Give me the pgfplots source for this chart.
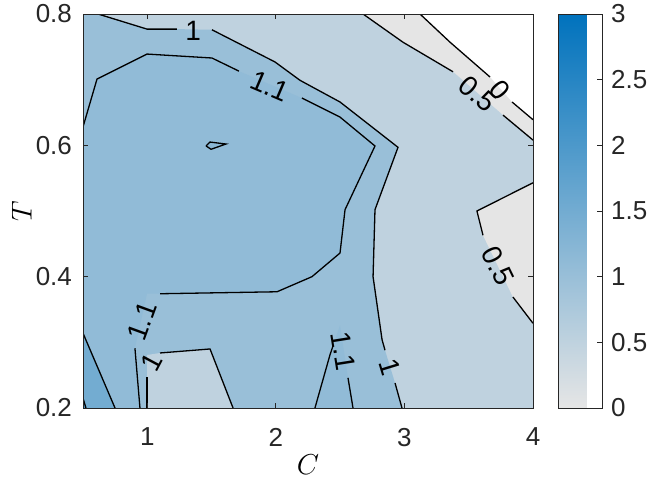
\documentclass[border=0pt]{standalone}
\usepackage{fontspec}
\setmainfont{Liberation Sans}
\usepackage{pgfplots}
\pgfplotsset{compat=1.18}

% colours of the filled levels, taken from the colormap at each level
\definecolor{axgray}{rgb}{0.15,0.15,0.15}
\definecolor{lv0}{rgb}{0.9,0.9,0.9}
\definecolor{lv05}{rgb}{0.75,0.8245,0.8735}
\definecolor{lv1}{rgb}{0.6,0.749,0.847}
\definecolor{lv11}{rgb}{0.57,0.7339,0.8417}
\definecolor{lv12}{rgb}{0.54,0.7188,0.8364}
\definecolor{lv15}{rgb}{0.45,0.6735,0.8205}
\definecolor{lv2}{rgb}{0.3,0.598,0.794}

\tikzset{
  cline/.style={black, line width=0.65pt},
  clab/.style={font=\fontsize{14}{16}\selectfont, inner sep=0pt},
}

\begin{document}
\begin{tikzpicture}
\begin{axis}[
  name=main,
  scale only axis, width=225pt, height=197pt,
  xmin=0.5, xmax=4, ymin=0.2, ymax=0.8,
  xtick={1,2,3,4}, ytick={0.2,0.4,0.6,0.8},
  axis line style={axgray, line width=0.5pt},
  tick style={axgray, line width=0.5pt},
  major tick length=2.5pt,
  tick label style={font=\fontsize{13}{15}\selectfont, text=axgray},
  xticklabel style={yshift=-6.5pt},
  yticklabel style={xshift=-2pt},
  /pgf/number format/assume math mode=true,
  xlabel={$C$}, ylabel={$T$},
  label style={font=\fontsize{14}{16}\selectfont},
  xlabel style={at={(axis description cs:0.5,-0.145)}, anchor=center},
  ylabel style={at={(axis description cs:-0.136,0.5)}, anchor=center},
  colormap={mcm}{rgb=(0.9,0.9,0.9) rgb=(0,0.447,0.741)},
  point meta min=0, point meta max=3,
  colorbar,
  colorbar style={
    scale only axis,
    width=22pt, height=197pt,
    at={(parent axis.north east)}, anchor=north west, xshift=4pt,
    ytick={0,0.5,1,1.5,2,2.5,3},
    ytick pos=right, yticklabel pos=right,
    axis line style={axgray, line width=0.5pt},
    tick style={axgray, line width=0.5pt},
    major tick length=2.5pt,
    yticklabel style={font=\fontsize{13}{15}\selectfont, text=axgray, xshift=1pt},
    /pgf/number format/assume math mode=true,
  },
  axis on top,
]
% filled levels, lowest first
\addplot[fill=lv0, draw=none] coordinates {(0.5,0.2) (4,0.2) (4,0.639) (3.837,0.666) (3.666,0.704) (3.355,0.757) (3.121,0.8) (0.5,0.8)};
\addplot[fill=lv05, draw=none] coordinates {(0.5,0.2) (4,0.2) (4,0.608) (3.767,0.646) (3.378,0.712) (2.989,0.757) (2.678,0.8) (0.5,0.8)};
\addplot[fill=lv0, draw=none] coordinates {(4,0.543) (3.564,0.500) (3.611,0.463) (3.844,0.369) (4,0.329)};
\addplot[fill=lv1, draw=none] coordinates {(0.5,0.8) (0.617,0.8) (0.998,0.777) (1.231,0.777) (1.503,0.776) (1.993,0.727) (2.188,0.699) (2.499,0.666) (2.950,0.597) (2.771,0.502) (2.756,0.400) (2.826,0.304) (2.849,0.288) (2.927,0.238) (2.981,0.2) (0.5,0.2)};
\addplot[fill=lv05, draw=none] coordinates {(0.998,0.2) (0.998,0.2807) (1.099,0.2838) (1.488,0.2899) (1.667,0.2)};
\addplot[fill=lv11, draw=none] coordinates {(0.5,0.628) (0.609,0.701) (0.998,0.739) (1.503,0.733) (1.713,0.713) (2.203,0.672) (2.499,0.643) (2.771,0.599) (2.538,0.502) (2.499,0.436) (2.281,0.400) (2.009,0.377) (1.099,0.374) (0.998,0.374) (0.904,0.291) (0.943,0.2) (0.5,0.2)};
\addplot[fill=lv11, draw=none] coordinates {(2.304,0.2) (2.421,0.281) (2.499,0.326) (2.561,0.246) (2.600,0.2)};
\addplot[fill=lv15, draw=none] coordinates {(0.5,0.314) (0.749,0.2) (0.5,0.2)};
\addplot[fill=lv2, draw=none] coordinates {(0.5,0.215) (0.523,0.2) (0.5,0.2)};
\addplot[fill=lv12, draw=none] coordinates {(1.457,0.599) (1.488,0.605) (1.612,0.602) (1.496,0.594)};

% contour lines, broken where the labels sit
\addplot[cline] coordinates {(3.121,0.8) (3.355,0.757) (3.666,0.704)};
\addplot[cline] coordinates {(3.837,0.666) (4,0.639)};
\addplot[cline] coordinates {(2.678,0.8) (2.989,0.757) (3.378,0.712)};
\addplot[cline] coordinates {(3.767,0.646) (4,0.608)};
\addplot[cline] coordinates {(4,0.543) (3.564,0.500) (3.611,0.463)};
\addplot[cline] coordinates {(3.844,0.369) (4,0.329)};
\addplot[cline] coordinates {(0.617,0.8) (0.998,0.777) (1.231,0.777)};
\addplot[cline] coordinates {(1.503,0.776) (1.993,0.727) (2.188,0.699) (2.499,0.666) (2.950,0.597) (2.771,0.502) (2.756,0.400) (2.826,0.304) (2.849,0.288)};
\addplot[cline] coordinates {(2.927,0.238) (2.981,0.2)};
\addplot[cline] coordinates {(0.998,0.2) (0.998,0.247)};
\addplot[cline] coordinates {(1.099,0.2838) (1.488,0.2899) (1.667,0.2)};
\addplot[cline] coordinates {(0.5,0.628) (0.609,0.701) (0.998,0.739) (1.503,0.733) (1.713,0.713)};
\addplot[cline] coordinates {(2.203,0.672) (2.499,0.643) (2.771,0.599) (2.538,0.502) (2.499,0.436) (2.281,0.400) (2.009,0.377) (1.099,0.374)};
\addplot[cline] coordinates {(0.904,0.291) (0.943,0.2)};
\addplot[cline] coordinates {(2.304,0.2) (2.421,0.281) (2.445,0.295)};
\addplot[cline] coordinates {(2.561,0.246) (2.600,0.2)};
\addplot[cline] coordinates {(0.5,0.314) (0.749,0.2)};
\addplot[cline] coordinates {(0.5,0.215) (0.523,0.2)};
\addplot[cline] coordinates {(1.457,0.599) (1.488,0.605) (1.612,0.602) (1.496,0.594) (1.457,0.599)};

% contour labels
\node[clab] at (axis cs:1.356,0.774) {1};
\node[clab, rotate=-23] at (axis cs:1.954,0.690) {1.1};
\node[clab, rotate=-41] at (axis cs:3.572,0.678) {0.5};
\node[clab, rotate=-49] at (axis cs:3.743,0.684) {0};
\node[clab, rotate=-64] at (axis cs:3.728,0.416) {0.5};
\node[clab, rotate=-73] at (axis cs:2.888,0.263) {1};
\node[clab, rotate=-81] at (axis cs:2.526,0.287) {1.1};
\node[clab, rotate=70] at (axis cs:0.96,0.332) {1.1};
\node[clab, rotate=62] at (axis cs:1.037,0.270) {1};
\end{axis}
\pgfresetboundingbox
\path[use as bounding box] ([shift={(-41.5pt,-42pt)}]main.south west) rectangle ([shift={(284pt,204pt)}]main.south west);
\end{tikzpicture}
\end{document}
